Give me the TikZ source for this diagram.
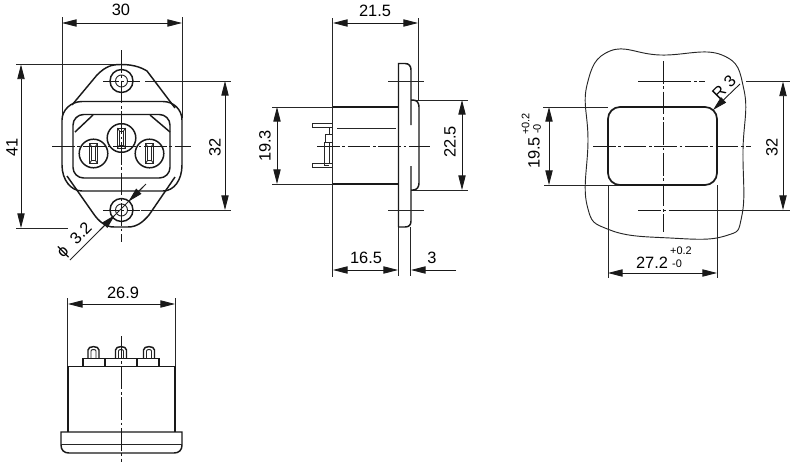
\documentclass[tikz,border=0pt]{standalone}
\usepackage{fontspec}
\setmainfont{Liberation Sans}
\usetikzlibrary{arrows.meta}
\tikzset{
  outline/.style={line width=1.1pt,black!90},
  thinline/.style={line width=.7pt,black!85},
  centerline/.style={line width=.65pt,black!90,dash pattern=on 17pt off 2pt on 2pt off 2pt},
  dimline/.style={line width=.65pt,black!90,{Triangle[length=11pt,width=5.5pt]}-{Triangle[length=11pt,width=5.5pt]}},
  dimhead/.style={line width=.65pt,black!90,-{Triangle[length=11pt,width=5.5pt]}},
  label/.style={inner sep=0pt,font=\fontsize{12.3}{12.3}\selectfont},
  smalllabel/.style={inner sep=0pt,font=\fontsize{8.2}{8.2}\selectfont}
}
\begin{document}
\begin{tikzpicture}[x=.75pt,y=-.75pt]
  \useasboundingbox (0,0) rectangle (790,464);

  % front view
  \draw[thinline] (62,17) -- (62,118) (182,17) -- (182,118);
  \draw[thinline] (16,64.5) -- (120,64.5) (16,228) -- (68,228);
  \draw[thinline] (145,81) -- (231,81) (141,210) -- (231,210);
  \draw[dimline] (62,23) -- (182,23);
  \draw[dimline] (21,64.5) -- (21,228);
  \draw[dimline] (225,81) -- (225,210);
  \node[label] (w30) at (121,10) {30};
  \node[label,rotate=90] (h41) at (12,147) {41};
  \node[label,rotate=90] (h32) at (215,147) {32};
  \draw[outline] (72,105) -- (97,75) .. controls (106,66) and (112,64.5) .. (121,64.5)
    .. controls (130,64.5) and (139,66) .. (147,71) -- (175,108);
  \draw[outline] (67,176) -- (93,213) .. controls (99,222) and (106,227) .. (114,227)
    -- (128,227) .. controls (137,227) and (143,222) .. (149,215) -- (175,177);
  \draw[outline] (82,101.5) -- (163,101.5) .. controls (174,101.5) and (182,110) .. (182,120)
    -- (182,165) .. controls (182,180) and (174,191) .. (163,191) -- (82,191)
    .. controls (71,191) and (62,180) .. (62,165) -- (62,120)
    .. controls (62,110) and (71,101.5) .. (82,101.5);
  \draw[outline,rounded corners=8pt] (73,114.5) rectangle (170,178);
  \draw[outline] (75,132) -- (93,115) (150,115) -- (170,132);
  \foreach \hy in {81,210} {
    \draw[outline] (121.5,\hy) circle (11.5);
    \draw[thinline] (121.5,\hy) circle (6);
    \draw[centerline,dash pattern=on 12pt off 2pt on 2pt off 2pt] (103,\hy) -- (140,\hy);
  }
  \foreach \px/\py in {121.5/138,93.5/153.5,149.5/153.5} {
    \draw[outline] (\px,\py) circle (14.3);
    \draw[thinline] (\px-4,\py-10) rectangle (\px+4,\py+10);
    \draw[thinline] (\px-2,\py-7) rectangle (\px+2,\py+7);
    \draw[thinline] (\px-4,\py-10) -- (\px-2,\py-7) (\px+4,\py-10) -- (\px+2,\py-7)
      (\px-4,\py+10) -- (\px-2,\py+7) (\px+4,\py+10) -- (\px+2,\py+7);
  }
  \draw[centerline] (52,146) -- (191,146);
  \draw[centerline] (121.5,50) -- (121.5,242);
  \draw[thinline] (70,260) -- (146,184);
  \draw[dimhead] (100,230) -- (115,215);
  \draw[dimhead] (143,187) -- (128.5,201.5);
  \node[label,rotate=45] (dia) at (75,241) {ϕ\hspace{.6em}3.2};

  % side view
  \draw[thinline] (332.5,18) -- (332.5,277) (418.5,18) -- (418.5,100);
  \draw[thinline] (398.5,227) -- (398.5,276) (410.5,227) -- (410.5,276);
  \draw[thinline] (272,107) -- (333,107) (272,184) -- (333,184);
  \draw[thinline] (411,100) -- (468,100) (411,190) -- (468,190);
  \draw[dimline] (333,23) -- (418,23);
  \draw[dimline] (277,107) -- (277,184);
  \draw[dimline] (462,100) -- (462,190);
  \draw[dimline] (333,270) -- (398,270);
  \draw[dimhead] (456,270) -- (411,270);
  \node[label] (w215) at (375,11) {21.5};
  \node[label] (w165) at (366,258) {16.5};
  \node[label] (w3) at (432,258) {3};
  \node[label,rotate=90] (h193) at (265,146) {19.3};
  \node[label,rotate=90] (h225) at (450,142) {22.5};
  \draw[outline] (333,107) -- (398.5,107) (333,184) -- (398.5,184);
  \draw[outline] (398.5,227) -- (398.5,63.5) -- (405,63.5)
    .. controls (409,63.5) and (411,66) .. (411,70) -- (411,125);
  \draw[outline] (411,166) -- (411,221) .. controls (411,225) and (409,227) .. (405,227) -- (398.5,227);
  \draw[outline] (411,100) -- (413,100) .. controls (417,100) and (419,103) .. (419,107)
    -- (419,183) .. controls (419,187) and (417,190) .. (413,190) -- (411,190);
  \draw[thinline] (337,128) -- (396,128);
  \draw[centerline] (317,146) -- (430,146);
  \draw[thinline] (388,81) -- (424,81) (388,210) -- (424,210);
  \draw[thinline] (332,127) -- (312,127) -- (312,123) -- (332,123);
  \draw[thinline] (332,167) -- (312,167) -- (312,163) -- (332,163);
  \draw[thinline] (329,127) -- (329,134) (329,142) -- (329,163);
  \draw[thinline] (325,134) rectangle (332,142);
  \draw[thinline] (324.5,142) -- (324.5,165) -- (329,165);

  % cut-out
  \draw[thinline] plot[smooth cycle,tension=.75] coordinates {
    (587,85) (610,51) (660,55) (722,55) (744,90) (743,150) (742,215) (725,236)
    (670,238) (610,230) (587,205) (588,140)};
  \draw[line width=1.3pt,black!90,rounded corners=9pt] (608,107) rectangle (717,185);
  \draw[centerline] (663,61) -- (663,232);
  \draw[centerline] (593,146) -- (751,146);
  \draw[centerline,dash pattern=on 40pt off 2pt on 2pt off 2pt] (638,81.5) -- (705,81.5);
  \draw[centerline,dash pattern=on 17pt off 2pt on 2pt off 2pt] (638,210) -- (690,210);
  \draw[thinline] (746,81.5) -- (790,81.5) (690,210) -- (790,210);
  \draw[thinline] (543,107) -- (608,107) (544,185) -- (620,185);
  \draw[thinline] (608,185) -- (608,278) (717,185) -- (717,278);
  \draw[dimline] (783,81.5) -- (783,210);
  \draw[dimline] (549,107) -- (549,185);
  \draw[dimline] (608,273) -- (717,273);
  \draw[dimhead] (740,84) -- (713,110);
  \node[label,rotate=45] (r3) at (724,87) {R 3};
  \node[label,rotate=90] (h32b) at (772,147) {32};
  \node[label,rotate=90] (h195) at (534,153) {19.5};
  \node[smalllabel,rotate=90] (h195p) at (525.5,124) {+0.2};
  \node[smalllabel,rotate=90] (h195m) at (537,129) {-0};
  \node[label] (w272) at (652,263) {27.2};
  \node[smalllabel] (w272p) at (681,251) {+0.2};
  \node[smalllabel] (w272m) at (677,264) {-0};

  % rear view
  \draw[thinline] (67.5,298) -- (67.5,366) (175,298) -- (175,366);
  \draw[dimline] (68,304) -- (175,304);
  \node[label] (w269) at (123,293) {26.9};
  \draw[outline] (68,431.5) -- (68,366.5) -- (175,366.5) -- (175,431.5);
  \draw[outline] (61,432) -- (61,445) .. controls (61,450) and (64,453) .. (69,453)
    -- (174,453) .. controls (179,453) and (182,450) .. (182,445) -- (182,432) -- cycle;
  \draw[thinline] (61,444) -- (182,444);
  \draw[outline] (83,366.5) -- (83,358.5) -- (159,358.5) -- (159,366.5);
  \draw[outline] (105,358.5) -- (105,366.5) (137,358.5) -- (137,366.5);
  \foreach \tx in {93.5,121,149} {
    \draw[outline] (\tx-5.5,358.5) -- (\tx-5.5,350) .. controls (\tx-5.5,345.5) and (\tx+5.5,345.5) .. (\tx+5.5,350) -- (\tx+5.5,358.5);
    \draw[thinline] (\tx-2.5,358.5) -- (\tx-2.5,351) .. controls (\tx-2.5,349) and (\tx+2.5,349) .. (\tx+2.5,351) -- (\tx+2.5,358.5);
  }
  \draw[centerline] (121,336) -- (121,462);
\end{tikzpicture}
\end{document}
